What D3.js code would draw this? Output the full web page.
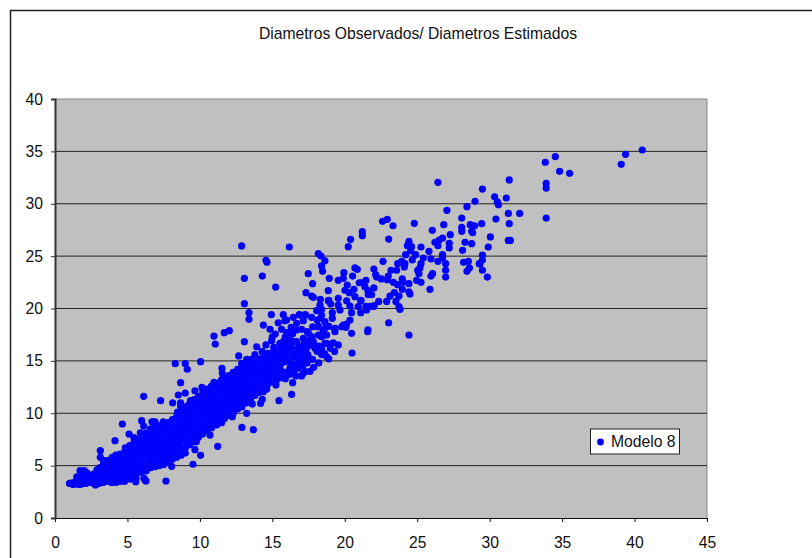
<!DOCTYPE html>
<html>
<head>
<meta charset="utf-8">
<script src="https://cdn.jsdelivr.net/npm/d3@7"></script>
<style>
body { margin: 0; background: #fff; }
text { font-family: "Liberation Sans", Arial, sans-serif; fill: #111; }
</style>
</head>
<body>
<div id="wrapper"></div>
<script>
const tituloGrafico = "Diametros Observados/ Diametros Estimados";
const nombreSerie = "Modelo 8";
const ticksX = [0, 5, 10, 15, 20, 25, 30, 35, 40, 45];
const ticksY = [0, 5, 10, 15, 20, 25, 30, 35, 40];

const puntosAltos = [
[40.53,35.13],[39.38,34.72],[39.08,33.76],[34.53,34.5],[33.84,33.96],[34.83,33.1],[35.52,32.9],[33.9,31.95],[33.9,31.5],[33.9,28.64],
[31.35,32.27],[29.5,31.4],[30.34,30.67],[31.15,30.55],[30.53,30.17],[30.6,29.9],[31.29,29.08],[32.07,29.08],[30.43,28.54],[29.45,28.1],
[31.35,28.1],[30.05,26.83],[31.29,26.5],[31.43,26.5],[29.9,25.87],[29.5,25.1],[29.5,24.63],[29.33,24.25],[29.5,23.65],[29.84,23.0],
[26.43,32.05],[28.99,30.23],[28.43,29.72],[27.05,29.37],[28.07,28.64],[22.61,28.32],[22.93,28.51],[23.33,27.9],[24.8,28.13],[26.83,28.0],
[28.66,28.0],[28.96,27.9],[26.04,27.46],[28.07,27.75],[28.07,27.37],[28.76,27.37],[28.83,27.23],[27.28,27.05],[21.21,27.33],[21.21,26.95],
[23.03,26.63],[26.75,26.73],[26.52,26.54],[26.22,26.32],[26.43,26.0],[27.21,26.22],[27.21,25.78],[28.3,26.32],[28.76,26.19],[28.13,25.55],
[24.43,26.41],[24.32,26.0],[24.61,25.9],[24.55,25.52],[24.2,25.14],[24.89,25.14],[25.26,25.87],[25.81,25.46],[26.75,25.14],[26.75,24.82],
[25.42,24.82],[25.95,24.73],[24.66,24.63],[22.64,24.5],[23.93,24.5],[26.43,24.5],[23.65,24.28],[24.15,24.28],[24.11,23.96],[26.96,24.28],
[28.2,24.41],[28.53,24.5],[29.28,24.28],[28.6,23.87],[28.43,23.55],[26.96,23.65],[26.96,23.0],[25.26,24.28],[25.19,23.87],[25.03,23.65],
[25.12,23.32],[26.06,23.32],[25.95,23.1],[22.01,23.77],[23.19,23.65],[23.58,23.65],[22.13,23.23],[22.2,23.0],[22.52,22.82],[23.0,23.1],
[22.93,22.75],[23.35,22.5],[23.65,22.27],[23.97,22.82],[24.04,22.5],[24.43,22.37],[23.97,21.83],[24.96,22.69],[25.26,22.5],[24.43,21.6],
[24.5,21.38],[25.88,21.83],[21.46,22.69],[21.17,22.46],[21.39,22.08],[22.01,21.96],[21.62,21.32],[21.85,21.32],[23.42,21.51],[23.12,21.19],
[23.74,21.19],[22.89,20.68],[23.53,20.68],[22.34,20.68],[21.12,20.78],[21.46,20.21],[21.74,20.21],[22.01,20.21],[23.74,20.17],[23.81,19.92],
[23.03,18.64],[24.43,17.47],[21.6,17.95]
];

const puntosMedios = [
[18.17,25.23],[18.36,25.01],[18.63,24.56],[18.4,24.06],[18.47,23.55],[17.48,23.32],[18.93,22.88],[19.94,23.42],[19.9,22.88],[19.55,22.69],
[20.54,23.1],[20.7,23.87],[20.86,23.74],[17.78,22.37],[20.17,22.24],[17.32,21.51],[18.86,21.7],[17.71,21.19],[17.83,21.07],[20.01,21.74],
[20.31,21.51],[20.63,21.83],[21.0,22.46],[21.6,21.7],[20.7,21.13],[19.55,20.97],[18.31,20.88],[18.86,20.75],[20.13,20.72],[21.1,20.75],
[19.03,20.43],[19.55,20.33],[20.36,20.24],[20.93,20.17],[22.01,20.27],[18.29,20.33],[18.06,19.79],[18.29,19.86],[19.67,19.86],[20.47,19.6],
[21.1,19.6],[21.51,19.86],[19.14,19.6],[18.4,19.38],[17.3,19.38],[16.91,19.38],[17.71,19.16],[17.14,18.84],[18.33,19.06],[18.63,18.74],
[19.14,19.06],[19.9,18.42],[20.36,18.9],[20.13,18.52],[17.78,18.26],[18.1,18.26],[19.32,18.04],[19.79,18.26],[20.4,26.6],[20.24,25.9],
[12.88,25.97],[16.17,25.87],[14.56,24.6],[14.63,24.41],[14.31,23.1],[13.07,22.88],[15.23,22.05],[13.07,20.46],[18.9,20.78],[13.39,19.6],
[13.39,18.97],[14.93,19.41],[14.38,18.42],[15.76,19.41],[16.45,19.16],[16.86,19.41],[17.25,19.41],[15.99,18.9],[15.41,18.64],[14.84,18.01],
[15.64,18.01],[15.2,17.56],[16.68,18.59],[16.68,17.95],[17.02,18.01],[16.1,17.69],[13.07,16.83],[13.92,16.35],[14.56,16.52],[14.95,16.93],
[15.53,16.61],[16.22,17.0],[16.68,16.83],[17.14,17.15],[17.71,17.31],[18.17,17.47],[18.75,17.47],[19.32,18.11],[19.32,17.79],[20.08,18.2],
[20.47,17.63],[21.58,17.79],[19.2,16.73],[19.55,16.52],[18.63,16.68],[17.83,16.83],[17.94,16.2],[17.14,16.52],[20.5,15.75],[19.3,15.9],
[18.4,15.6],[18.9,15.2],[17.78,15.15],[17.85,14.39],
[15.9,17.3],[16.4,17.6],[17.4,17.8],[17.6,16.5],[18.4,16.1],[18.1,18.9],[18.9,18.3],[18.5,17.9],[16.9,16.2],[15.1,16.3],
[15.8,16.9],[14.3,15.9],[13.8,15.6],[17.3,15.0],[18.6,15.7],[19.0,16.2],[16.3,18.2],[15.0,17.3],[17.5,17.0],[16.0,16.5],
[18.4,19.92],[15.87,18.84],[17.48,17.69],[18.17,18.33],[18.63,18.11],[15.99,17.69],[16.45,16.83],[17.25,16.83],[18.4,17.31],[18.75,16.68],
[18.06,16.04],[17.25,15.78],[16.45,15.88],[15.99,15.97],[15.53,16.68],[14.72,15.72],[16.79,15.08],[17.02,14.77],[16.22,14.29],[16.68,14.29],
[18.75,15.4],[17.6,14.0],[18.2,14.8]
];

const puntosBordes = [
[10.97,17.37],[11.06,16.61],[11.68,17.69],[12.03,17.88],[12.68,15.47],[10.05,14.92],[11.52,14.29],[11.55,13.81],[12.22,13.58],[9.66,12.15],
[10.14,12.47],[10.97,12.95],[11.52,13.24],[12.88,14.77],[13.23,15.15],[13.57,15.15],[16.33,11.8],[15.46,11.2],[16.4,12.92],[17.14,13.81],
[17.25,13.97],[17.02,13.56],[16.63,13.56],[15.25,12.7],[14.61,12.29],[14.38,12.06],[14.31,11.33],[14.19,10.95],[13.62,10.88],[13.23,9.99],
[12.24,9.67],[12.9,8.65],[13.69,8.43],[11.23,6.84],[11.5,9.1],[11.16,8.88],[10.7,7.92],[10.19,8.02],[9.66,7.28],[13.69,11.9],
[8.3,14.73],[8.99,14.73],[9.13,14.2],[8.67,11.0],[8.67,10.69],[9.27,10.88],[8.67,12.92],[8.51,11.74],[8.99,11.93],[8.12,11.0],
[7.29,11.2],[6.12,11.62],[4.65,8.97],[4.14,7.38],[3.13,6.43],[3.13,5.79],[3.43,5.47],[5.98,9.29],[6.12,8.78],[5.11,8.02],
[5.45,7.67],[5.89,8.14],[7.66,3.53],[8.05,4.93],[9.52,5.13],[6.21,3.63],[5.59,3.79],[5.18,3.72],[1.73,4.52],[2.02,4.52],
[1.5,3.94],[6.78,9.19],[7.47,9.19],[6.69,9.19],[6.9,9.19],[10.05,5.98],[9.66,6.52],[8.99,6.2],[9.75,7.28],[5.57,3.47],
[6.14,3.79],[6.28,3.53]
];

// the solid band, estimated by eye column after column
const puntosBanda = [
[1.0,3.3],[1.2,3.35],[1.25,3.2],[1.4,3.25],[1.45,3.5],[1.6,3.3],[1.65,3.8],[1.7,3.2],[1.8,3.25],[1.85,3.7],[1.9,4.1],
[2.1,3.3],[2.15,3.8],[2.2,4.3],[2.3,3.4],[2.35,3.9],[2.6,3.35],[2.55,3.8],[2.65,4.2],[2.8,3.15],[2.85,3.6],[2.75,4.1],[2.9,4.6],
[3.0,3.3],[3.05,3.8],[2.95,4.3],[3.1,4.8],[3.3,3.4],[3.25,3.9],[3.35,4.4],[3.3,4.9],[3.35,5.3],[3.6,3.5],[3.65,4.0],[3.55,4.5],[3.6,5.0],[3.7,5.5],
[3.9,3.4],[3.95,3.9],[3.85,4.4],[3.9,4.9],[4.0,5.4],[3.95,5.8],[4.2,3.4],[4.25,3.9],[4.15,4.5],[4.2,5.0],[4.3,5.5],[4.2,6.0],
[4.5,3.5],[4.55,4.1],[4.45,4.6],[4.5,5.1],[4.6,5.6],[4.5,6.1],[4.8,3.5],[4.85,4.0],[4.75,4.6],[4.8,5.2],[4.9,5.7],[4.8,6.3],[4.85,6.7],
[5.1,3.9],[5.15,4.4],[5.05,4.9],[5.1,5.4],[5.2,5.9],[5.1,6.4],[5.15,6.9],[5.4,4.2],[5.45,4.7],[5.35,5.2],[5.4,5.7],[5.5,6.2],[5.4,6.7],[5.45,7.2],
[5.7,4.3],[5.75,4.9],[5.65,5.4],[5.7,5.9],[5.8,6.4],[5.7,7.0],[5.75,7.5],[6.0,4.4],[6.05,4.9],[5.95,5.5],[6.0,6.0],[6.1,6.6],[6.0,7.1],[6.05,7.6],
[6.3,4.5],[6.35,5.0],[6.25,5.6],[6.3,6.1],[6.4,6.7],[6.3,7.2],[6.35,7.7],[6.3,8.1],[6.6,4.8],[6.65,5.3],[6.55,5.8],[6.6,6.4],[6.7,6.9],[6.6,7.4],[6.65,7.9],[6.6,8.5],
[6.9,4.9],[6.95,5.4],[6.85,5.9],[6.9,6.5],[7.0,7.0],[6.9,7.6],[6.95,8.1],[6.9,8.7],[7.2,5.0],[7.25,5.5],[7.15,6.1],[7.2,6.6],[7.3,7.2],[7.2,7.7],[7.25,8.2],[7.2,8.8],
[7.5,5.1],[7.55,5.7],[7.45,6.2],[7.5,6.8],[7.6,7.3],[7.5,7.9],[7.55,8.4],[7.5,9.0],[7.8,5.4],[7.85,5.9],[7.75,6.5],[7.8,7.0],[7.9,7.6],[7.8,8.1],[7.85,8.7],[7.8,9.1],
[8.1,5.6],[8.15,6.2],[8.05,6.7],[8.1,7.3],[8.2,7.8],[8.1,8.4],[8.15,8.9],[8.1,9.4],[8.4,5.8],[8.45,6.4],[8.35,6.9],[8.4,7.5],[8.5,8.0],[8.4,8.6],[8.45,9.1],[8.4,9.7],[8.45,10.1],
[8.7,6.0],[8.75,6.6],[8.65,7.2],[8.7,7.7],[8.8,8.3],[8.7,8.8],[8.75,9.4],[8.7,9.9],[8.75,10.4],[9.0,6.7],[9.05,7.3],[8.95,7.9],[9.0,8.4],[9.1,9.0],[9.0,9.5],[9.05,10.1],[9.0,10.6],
[9.3,7.0],[9.35,7.5],[9.25,8.1],[9.3,8.6],[9.4,9.2],[9.3,9.8],[9.35,10.3],[9.3,10.8],[9.35,11.2],[9.6,7.5],[9.65,8.0],[9.55,8.6],[9.6,9.1],[9.7,9.7],[9.6,10.2],[9.65,10.8],[9.6,11.3],
[9.9,7.7],[9.95,8.3],[9.85,8.8],[9.9,9.4],[10.0,9.9],[9.9,10.5],[9.95,11.0],[9.9,11.6],[10.2,8.2],[10.25,8.7],[10.15,9.3],[10.2,9.8],[10.3,10.4],[10.2,10.9],[10.25,11.5],[10.2,12.0],
[10.5,8.4],[10.55,9.0],[10.45,9.5],[10.5,10.1],[10.6,10.6],[10.5,11.2],[10.55,11.7],[10.5,12.3],[10.8,8.6],[10.85,9.2],[10.75,9.8],[10.8,10.3],[10.9,10.9],[10.8,11.4],[10.85,12.0],[10.8,12.6],
[11.1,9.0],[11.15,9.6],[11.05,10.1],[11.1,10.7],[11.2,11.2],[11.1,11.8],[11.15,12.3],[11.1,12.8],[11.4,9.3],[11.45,9.9],[11.35,10.4],[11.4,11.0],[11.5,11.5],[11.4,12.1],[11.45,12.6],[11.4,13.0],
[11.7,9.5],[11.75,10.1],[11.65,10.7],[11.7,11.2],[11.8,11.8],[11.7,12.3],[11.75,12.9],[11.7,13.3],[12.0,9.8],[12.05,10.4],[11.95,10.9],[12.0,11.5],[12.1,12.0],[12.0,12.6],[12.05,13.1],[12.0,13.6],
[12.3,10.0],[12.35,10.6],[12.25,11.2],[12.3,11.7],[12.4,12.3],[12.3,12.8],[12.35,13.4],[12.3,13.9],[12.6,10.4],[12.65,10.9],[12.55,11.5],[12.6,12.0],[12.7,12.6],[12.6,13.1],[12.65,13.6],[12.6,14.2],
[12.9,10.6],[12.95,11.2],[12.85,11.7],[12.9,12.3],[13.0,12.8],[12.9,13.4],[12.95,13.9],[12.9,14.4],[13.2,11.0],[13.25,11.6],[13.15,12.1],[13.2,12.7],[13.3,13.2],[13.2,13.8],[13.25,14.3],[13.2,14.7],
[13.5,11.2],[13.55,11.8],[13.45,12.4],[13.5,12.9],[13.6,13.5],[13.5,14.0],[13.55,14.5],[13.5,14.9],[13.8,11.7],[13.85,12.2],[13.75,12.7],[13.8,13.3],[13.9,13.8],[13.8,14.4],[13.85,14.9],
[14.1,12.0],[14.15,12.5],[14.05,13.0],[14.1,13.6],[14.2,14.1],[14.1,14.7],[14.15,15.2],[14.4,12.5],[14.45,13.1],[14.35,13.6],[14.4,14.2],[14.5,14.7],[14.4,15.3],
[14.7,12.8],[14.75,13.4],[14.65,13.9],[14.7,14.5],[14.8,15.0],[14.7,15.6],[15.0,13.0],[15.05,13.5],[14.95,14.1],[15.0,14.6],[15.1,15.2],[15.0,15.8],
[15.3,13.2],[15.35,13.8],[15.25,14.3],[15.3,14.9],[15.4,15.4],[15.3,15.9],[15.6,13.4],[15.65,14.0],[15.55,14.6],[15.6,15.1],[15.7,15.7],[15.6,16.2],
[15.9,13.3],[15.95,13.9],[15.85,14.9],[15.9,15.5],[16.0,16.1],[16.2,13.7],[16.25,14.4],[16.15,15.0],[16.2,15.7],[16.3,16.3],
[16.5,14.0],[16.55,14.7],[16.45,15.4],[16.5,16.0],[16.8,14.3],[16.85,15.1],[16.75,15.7],[16.8,16.3],[17.1,14.5],[17.15,15.3],[17.05,15.9],
[17.4,14.8],[17.45,15.6],[17.35,16.2],[17.6,15.2],[18.1,15.9],[18.2,16.4]
];

const todosLosPuntos = [...puntosAltos, ...puntosMedios, ...puntosBordes, ...puntosBanda];

const dimensions = {
	width: 812,
	height: 558,
	margin: { top: 99, right: 105, bottom: 40, left: 55 }
};
dimensions.boundedWidth = dimensions.width - dimensions.margin.left - dimensions.margin.right;
dimensions.boundedHeight = dimensions.height - dimensions.margin.top - dimensions.margin.bottom;

const wrapper = d3.select("#wrapper")
	.append("svg")
	.attr("width", dimensions.width)
	.attr("height", dimensions.height)
	.style("display", "block");

// outer frame, only the top and left edges fall inside the picture
wrapper.append("path")
	.attr("d", "M10.5,558V10.5H812")
	.attr("fill", "none")
	.attr("stroke", "#222")
	.attr("stroke-width", 1.5);

wrapper.append("text")
	.attr("x", 418)
	.attr("y", 39)
	.attr("text-anchor", "middle")
	.style("font-size", "15.7px")
	.text(tituloGrafico);

const bounds = wrapper.append("g")
	.attr("transform", `translate(${dimensions.margin.left},${dimensions.margin.top})`);

const xScale = d3.scaleLinear().domain([0, 45]).range([0, dimensions.boundedWidth]);
const yScale = d3.scaleLinear().domain([0, 40]).range([dimensions.boundedHeight, 0]);

bounds.append("rect")
	.attr("width", dimensions.boundedWidth)
	.attr("height", dimensions.boundedHeight)
	.attr("fill", "#c0c0c0");

// right and top edge of the plot
bounds.append("path")
	.attr("d", `M0,0H${dimensions.boundedWidth}V${dimensions.boundedHeight}`)
	.attr("fill", "none")
	.attr("stroke", "#888")
	.attr("stroke-width", 1);

bounds.append("g")
	.selectAll("line")
	.data(ticksY.filter(d => d > 0 && d < 40))
	.enter()
	.append("line")
	.attr("x1", 0)
	.attr("x2", dimensions.boundedWidth)
	.attr("y1", d => yScale(d))
	.attr("y2", d => yScale(d))
	.attr("stroke", "#222")
	.attr("stroke-width", 1);

const xAxis = bounds.append("g")
	.attr("transform", `translate(0,${dimensions.boundedHeight})`)
	.call(d3.axisBottom(xScale).tickValues(ticksX).tickSize(4).tickPadding(15));

const yAxis = bounds.append("g")
	.call(d3.axisLeft(yScale).tickValues(ticksY).tickSize(4).tickPadding(8));

xAxis.selectAll(".domain, line").attr("stroke", "#111");
yAxis.selectAll(".domain, line").attr("stroke", "#333");
yAxis.select(".domain").attr("stroke-width", 2);
xAxis.selectAll("text").style("font-size", "15.7px").attr("fill", "#111");
yAxis.selectAll("text").style("font-size", "15.7px").attr("fill", "#111");

bounds.append("g")
	.selectAll("circle")
	.data(todosLosPuntos)
	.enter()
	.append("circle")
	.attr("cx", d => xScale(d[0]))
	.attr("cy", d => yScale(d[1]))
	.attr("r", 3.6)
	.attr("fill", "#0000ff");

// legend
const legend = wrapper.append("g").attr("transform", "translate(590.5,429)");
legend.append("rect")
	.attr("width", 89)
	.attr("height", 25)
	.attr("fill", "#fff")
	.attr("stroke", "#222");
legend.append("circle")
	.attr("cx", 10)
	.attr("cy", 13)
	.attr("r", 3.4)
	.attr("fill", "#0000ff");
legend.append("text")
	.attr("x", 20.5)
	.attr("y", 18)
	.style("font-size", "15.7px")
	.text(nombreSerie);
</script>
</body>
</html>
